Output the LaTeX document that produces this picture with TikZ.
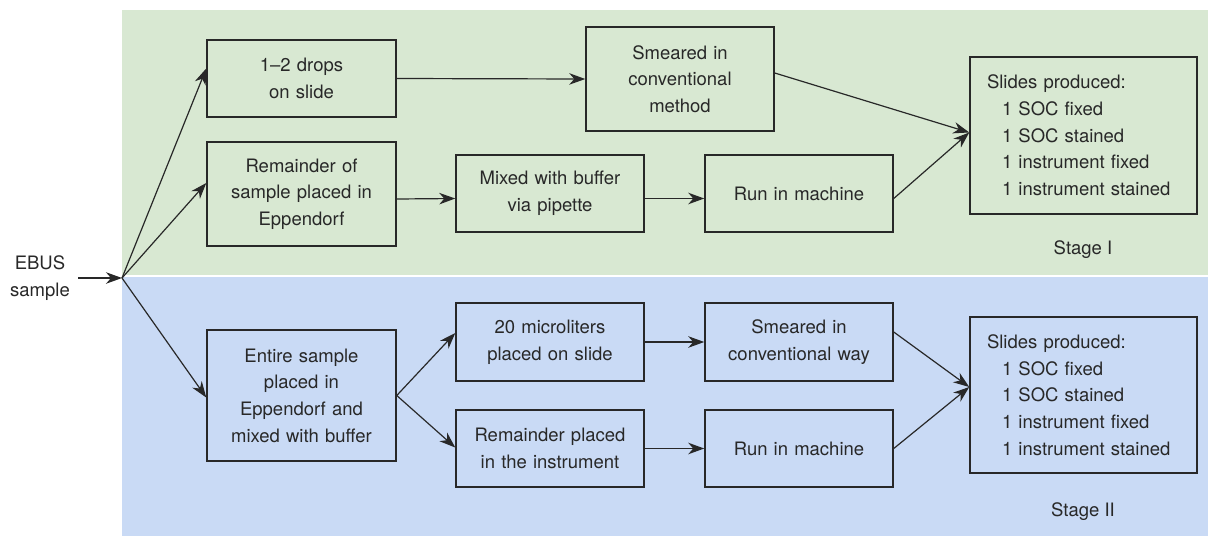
\documentclass[tikz,border=0pt]{standalone}
\usepackage{fontspec}
\setmainfont{TeX Gyre Heros}
\usetikzlibrary{arrows.meta}
\definecolor{bggreen}{RGB}{216,232,210}
\definecolor{bgblue}{RGB}{201,218,245}
\definecolor{ink}{RGB}{40,40,40}
\begin{document}
\begin{tikzpicture}[x=1pt,y=-1pt,
  font=\fontsize{18.5}{26.7}\selectfont,
  box/.style={draw=ink, line width=1.5pt, text=ink, align=center, inner sep=0pt, text width=182pt},
  slides/.style={draw=ink, line width=1.5pt, text=ink, align=left, inner xsep=17pt, inner ysep=0pt, text width=193pt, minimum height=157pt},
  arr/.style={draw=ink, line width=1.2pt, -{Stealth[length=16pt,width=11.5pt,inset=5pt]}},
  lbl/.style={text=ink}]
\useasboundingbox (0,0) rectangle (1208,536);
\fill[bggreen] (122,10) rectangle (1208,275);
\fill[bgblue] (122,277) rectangle (1208,536);

\node[lbl, align=center, inner xsep=8pt] (ebus) at (40,278) {EBUS\\sample};
\coordinate (hub) at (122,278);

% Stage I
\node[box, minimum width=189pt, minimum height=77pt] (d1) at (301.5,78.5) {1–2 drops\\on slide};
\node[box, minimum width=189pt, minimum height=104pt] (r1) at (301.5,194) {Remainder of\\sample placed in\\Eppendorf};
\node[box, minimum width=188pt, minimum height=77pt] (m1) at (550,193.5) {Mixed with buffer\\via pipette};
\node[box, minimum width=188pt, minimum height=104pt] (s1) at (680,79) {Smeared in\\conventional\\method};
\node[box, minimum width=188pt, minimum height=77pt] (run1) at (799,193.5) {Run in machine};
\node[slides] (sl1) at (1083.5,135.5) {Slides produced:\\\hspace*{15pt}1 SOC fixed\\\hspace*{15pt}1 SOC stained\\\hspace*{15pt}1 instrument fixed\\\hspace*{15pt}1 instrument stained};
\node[lbl] (st1) at (1083,250) {Stage I};

% Stage II
\node[box, minimum width=189pt, minimum height=131pt] (e2) at (301.5,395.5) {Entire sample\\placed in\\Eppendorf and\\mixed with buffer};
\node[box, minimum width=188pt, minimum height=78pt] (u2) at (550,342) {20 microliters\\placed on slide};
\node[box, minimum width=188pt, minimum height=77pt] (r2) at (550,448.5) {Remainder placed\\in the instrument};
\node[box, minimum width=188pt, minimum height=78pt] (s2) at (799,342) {Smeared in\\conventional way};
\node[box, minimum width=188pt, minimum height=77pt] (run2) at (799,448.5) {Run in machine};
\node[slides, minimum height=156pt] (sl2) at (1083.5,395) {Slides produced:\\\hspace*{15pt}1 SOC fixed\\\hspace*{15pt}1 SOC stained\\\hspace*{15pt}1 instrument fixed\\\hspace*{15pt}1 instrument stained};
\node[lbl] (st2) at (1083,512) {Stage II};

% connectors
\draw[arr] (ebus.east) -- (hub);
\draw[arr] (hub) -- ([yshift=10pt]d1.west);
\draw[arr] (hub) -- ([yshift=11pt]r1.west);
\draw[arr] (hub) -- ([yshift=-2pt]e2.west);

\draw[arr] (d1.east) -- (s1.west);
\draw[arr] ([yshift=-5pt]r1.east) -- ([yshift=-5pt]m1.west);
\draw[arr] ([yshift=-5pt]m1.east) -- ([yshift=-5pt]run1.west);
\draw[arr] ([yshift=6pt]s1.east) -- ([yshift=3pt]sl1.west);
\draw[arr] ([yshift=-5pt]run1.east) -- ([yshift=3pt]sl1.west);

\draw[arr] (e2.east) -- ([yshift=9pt]u2.west);
\draw[arr] (e2.east) -- ([yshift=1pt]r2.west);
\draw[arr] (u2.east) -- (s2.west);
\draw[arr] (r2.east) -- (run2.west);
\draw[arr] ([yshift=10pt]s2.east) -- ([yshift=8pt]sl2.west);
\draw[arr] (run2.east) -- ([yshift=8pt]sl2.west);
\end{tikzpicture}
\end{document}
